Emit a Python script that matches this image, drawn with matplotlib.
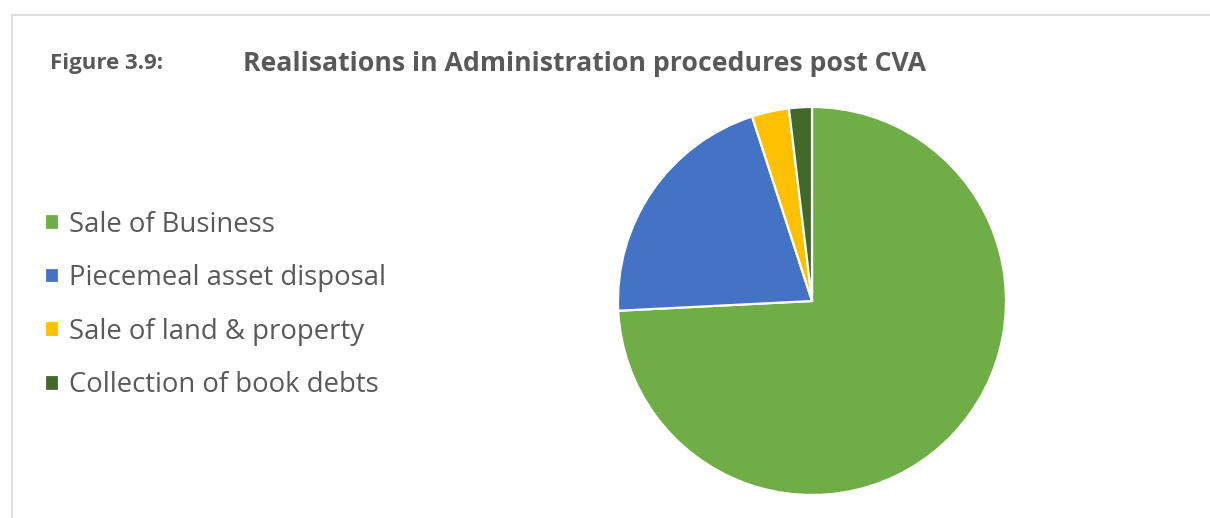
import matplotlib.pyplot as plt
from matplotlib.lines import Line2D

labels = ["Sale of Business", "Piecemeal asset disposal",
          "Sale of land & property", "Collection of book debts"]
shares = [74.2, 20.8, 3.1, 1.9]
colors = ["#70AD47", "#4472C4", "#FFC000", "#43682B"]

W, H = 1210, 518
fig = plt.figure(figsize=(W / 100, H / 100), dpi=100)
plt.rcParams['font.family'] = ['Open Sans', 'DejaVu Sans']
grey = "#595959"

# pie axes: centre (812, 301), radius 194 px
r = 194
cx, cy = 812, 301
ax = fig.add_axes([(cx - r) / W, (H - cy - r) / H, 2 * r / W, 2 * r / H])
wedges, _ = ax.pie(shares, colors=colors, startangle=90, counterclock=False,
                   wedgeprops=dict(edgecolor="white", linewidth=1.6))
ax.set_xlim(-1, 1)
ax.set_ylim(-1, 1)
ax.set_aspect("equal")

# chart area border (top and left edges visible)
fig.add_artist(Line2D([12 / W, 1], [1 - 15 / H, 1 - 15 / H], color="#D9D9D9", lw=1.2))
fig.add_artist(Line2D([12 / W, 12 / W], [0, 1 - 15 / H], color="#D9D9D9", lw=1.2))

fig.text(50 / W, 1 - 64 / H, "Figure 3.9:", fontsize=16, fontweight="bold",
         color=grey, va="center", ha="left")
fig.text(243 / W, 1 - 64 / H, "Realisations in Administration procedures post CVA",
         fontsize=19.2, fontweight="bold", color=grey, va="center", ha="left")

fig.legend(wedges, labels, loc="upper left", bbox_to_anchor=(31 / W, 1 - 197 / H),
           frameon=False, fontsize=19.8, labelcolor=grey, handlelength=0.5,
           handleheight=0.5, handletextpad=0.38, labelspacing=0.93, borderpad=0)

fig.savefig("out.png", dpi=100)
